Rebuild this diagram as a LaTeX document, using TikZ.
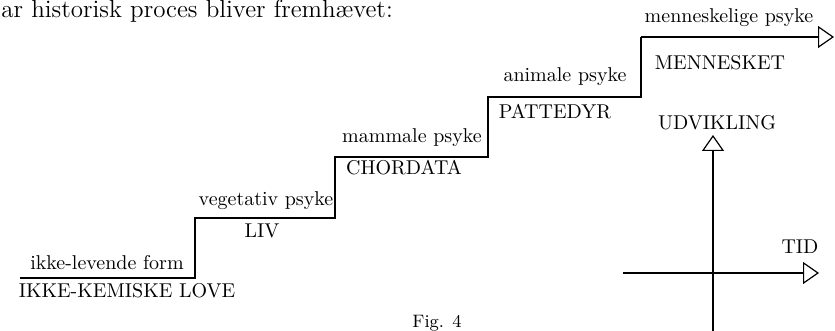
\documentclass[tikz,border=0pt]{standalone}
\usetikzlibrary{arrows.meta}
\tikzset{
  stair/.style={line width=0.6pt, line join=miter},
  axis/.style={line width=0.6pt, -{Triangle[open, length=8pt, width=11pt, line width=0.6pt]}},
  lbl/.style={inner sep=0pt, font=\normalsize}
}
\begin{document}
\begin{tikzpicture}[x=0.5pt, y=0.5pt]
\useasboundingbox (0,0) rectangle (835,331);
\node [inner sep=0pt, anchor=base west, font=\fontsize{12.5}{14}\selectfont] (txt) at (1,313) {ar historisk proces bliver fremh\ae vet:};
\coordinate (s0) at (20,53);
\coordinate (s1) at (195,53);
\coordinate (s2) at (195,113);
\coordinate (s3) at (335,113);
\coordinate (s4) at (335,174);
\coordinate (s5) at (488,174);
\coordinate (s6) at (488,234);
\coordinate (s7) at (641,234);
\coordinate (s8) at (641,294);
\coordinate (s9) at (834,294);
\draw [stair] (s0) -- (s1) -- (s2) -- (s3) -- (s4) -- (s5) -- (s6) -- (s7) -- (s8);
\draw [axis] (s8) -- (s9);
\node [lbl] (form) at (107,68) {ikke-levende form};
\node [lbl] (love) at (127,40) {IKKE-KEMISKE LOVE};
\node [lbl] (veg) at (266,130) {vegetativ psyke};
\node [lbl] (liv) at (262,100) {LIV};
\node [lbl] (mam) at (412,193) {mammale psyke};
\node [lbl] (chord) at (404,163) {CHORDATA};
\node [lbl] (ani) at (565,254) {animale psyke};
\node [lbl] (patt) at (555,219) {PATTEDYR};
\node [lbl] (menps) at (729,313) {menneskelige psyke};
\node [lbl] (men) at (720,268) {MENNESKET};
\coordinate (ybot) at (713,0);
\coordinate (ytop) at (713,196);
\coordinate (xl) at (623,58);
\coordinate (xr) at (819,58);
\draw [axis] (ybot) -- (ytop);
\draw [axis] (xl) -- (xr);
\node [lbl] (udv) at (717,208) {UDVIKLING};
\node [lbl] (tid) at (800,84) {TID};
\node [inner sep=0pt, anchor=base, font=\small] (fig) at (437,3) {Fig. 4};
\end{tikzpicture}
\end{document}
